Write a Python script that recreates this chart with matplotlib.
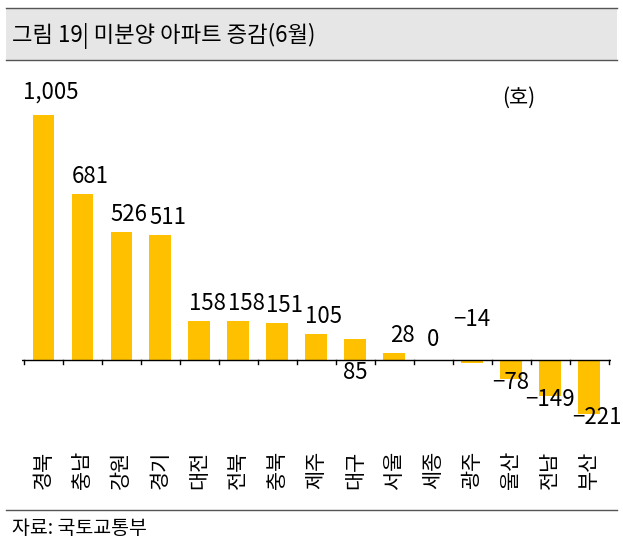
import numpy as np
from matplotlib import pyplot as plt
from matplotlib.patches import Rectangle

plt.rcParams['font.family'] = ['Noto Sans CJK KR', 'DejaVu Sans']

regions = ['경북', '충남', '강원', '경기', '대전', '전북', '충북', '제주', '대구', '서울', '세종', '광주', '울산', '전남', '부산']
vals = [1005, 681, 526, 511, 158, 158, 151, 105, 85, 28, 0, -14, -78, -149, -221]
# label offsets (x, y) in data units
offs = {0: (0.2, 45), 8: (0, -100), 11: (0, 120), 12: (0, -60), 13: (0, -60), 14: (0.2, -60), 10: (0, 35)}

fig = plt.figure(figsize=(6.23, 5.48), dpi=100)
fig.patches.append(Rectangle((0.01, 0.89), 0.98, 0.095, transform=fig.transFigure,
                             facecolor='#e6e6e6', edgecolor='none'))
fig.add_artist(plt.Line2D([0.01, 0.99], [0.985, 0.985], color='#555555', lw=1))
fig.add_artist(plt.Line2D([0.01, 0.99], [0.89, 0.89], color='#555555', lw=1))
fig.add_artist(plt.Line2D([0.01, 0.99], [0.07, 0.07], color='#555555', lw=1))
fig.text(0.02, 0.935, '그림 19| 미분양 아파트 증감(6월)', fontsize=16, va='center')
fig.text(0.02, 0.035, '자료: 국토교통부', fontsize=14, va='center')

ax = fig.add_axes([0.035, 0.197, 0.945, 0.675])
x = np.arange(len(vals))
ax.bar(x, vals, width=0.55, color='#ffc000')
ax.axhline(0, color='black', lw=1)
for i in range(len(vals) + 1):
    ax.plot([i - 0.5, i - 0.5], [0, -18], color='black', lw=1)
for i, v in enumerate(vals):
    dx, dy = offs.get(i, (0.2, 25))
    base = max(v, 0) if i not in (8, 11, 12, 13, 14) else (v if v < 0 else 0)
    if i == 11:
        base = 0
    ax.text(i + dx, base + dy, f'{v:,}'.replace('-', '−'), ha='center', va='bottom', fontsize=16)
ax.text(12.2, 1050, '(호)', ha='center', fontsize=15)
ax.set_xlim(-0.55, len(vals) - 0.45)
ax.set_ylim(-328, 1188)
ax.set_yticks([])
ax.set_xticks(x)
ax.set_xticklabels(regions, rotation=90, fontsize=15)
ax.tick_params(axis='x', length=0, pad=8)
for s in ax.spines.values():
    s.set_visible(False)

plt.savefig('out.png', dpi=100)
